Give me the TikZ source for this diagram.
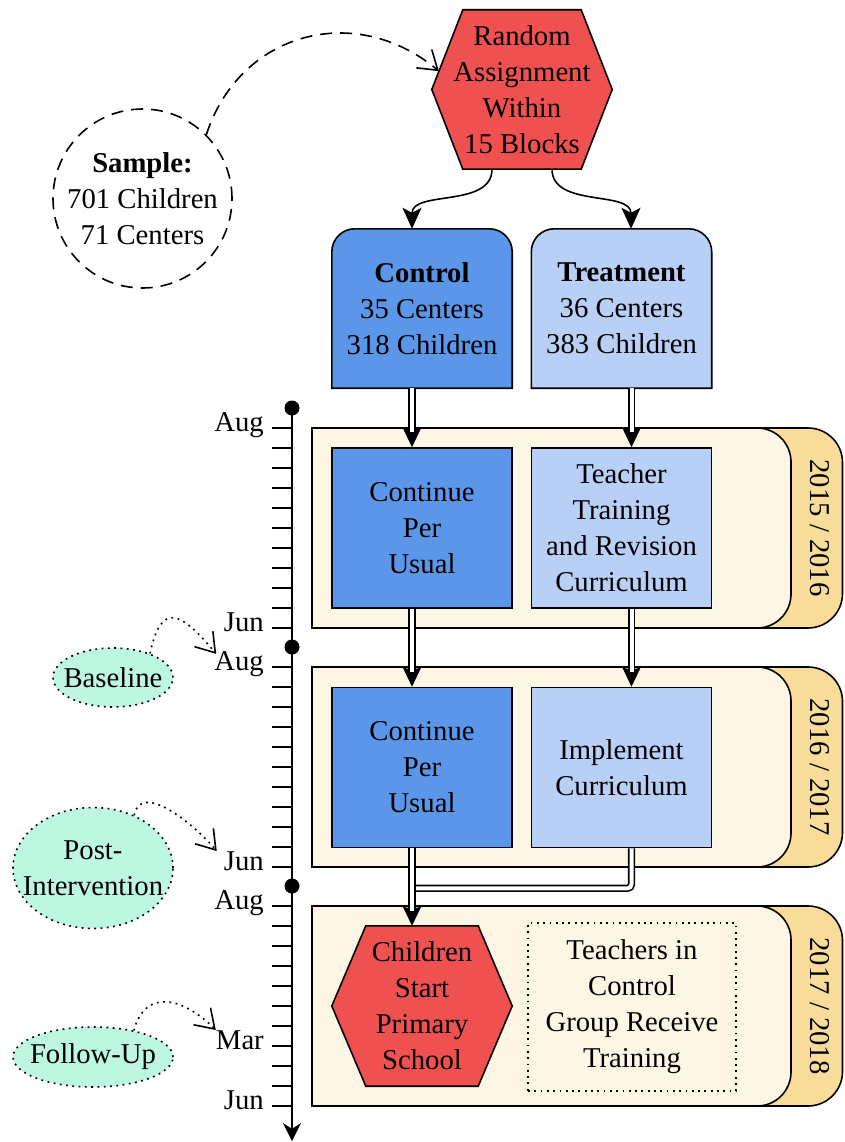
\documentclass[tikz,border=0pt]{standalone}
\usepackage{fontspec}
\setmainfont{Liberation Serif}
\usetikzlibrary{arrows.meta,shapes.geometric,backgrounds,calc}
\definecolor{hexred}{RGB}{239,80,80}
\definecolor{ctrlblue}{RGB}{91,150,233}
\definecolor{trtblue}{RGB}{184,208,245}
\definecolor{cream}{RGB}{254,246,229}
\definecolor{tabor}{RGB}{248,220,154}
\definecolor{mint}{RGB}{189,247,225}
\newcommand\yearpanel[1]{%
 \draw[lw, fill=tabor] (600,-#1) -- (808,-#1) arc[start angle=90,end angle=0,radius=34.5] -- (842.5,{-#1-165.5}) arc[start angle=0,end angle=-90,radius=34.5] -- (600,{-#1-200}) -- cycle;
 \draw[lw, fill=cream] (312,-#1) -- (757,-#1) arc[start angle=90,end angle=0,radius=34] -- (791,{-#1-166}) arc[start angle=0,end angle=-90,radius=34] -- (312,{-#1-200}) -- cycle;}
\begin{document}
\begin{tikzpicture}[x=1pt,y=1pt,
 every node/.style={font=\fontsize{28.7}{36}\selectfont, inner sep=0pt},
 lw/.style={line width=1.6pt},
 box/.style={draw, line width=1.6pt, minimum width=180pt, minimum height=160pt, align=center},
 ctrlbox/.style={box, fill=ctrlblue},
 trtbox/.style={box, fill=trtblue},
 plain/.style={minimum width=180pt, minimum height=160pt, align=center},
 solidarr/.style={line width=1.6pt, -{Stealth[length=21pt,width=19pt,inset=5pt]}},
 dbltip/.style={line width=1.6pt, -{Stealth[length=19pt,width=18pt,inset=2pt]}},
 dblline/.style={line width=1.6pt, double=white, double distance=4pt, shorten >=15pt},
 openarr/.style={-{Straight Barb[length=18pt,width=24pt]}},
 dashedarr/.style={line width=1.6pt, dash pattern=on 12pt off 8pt, openarr},
 dotline/.style={dash pattern=on 1.8pt off 4.5pt},
 dotarr/.style={line width=1.6pt, dotline, openarr},
 ell/.style={ellipse, draw, line width=1.6pt, dotline, fill=mint, inner xsep=-15pt, inner ysep=0pt},
 month/.style={anchor=base east},
 year/.style={rotate=-90},
]
\useasboundingbox (0,0) rectangle (844,-1142);

% main nodes
\node[plain, minimum height=159pt] (rand) at (522,-89.5) {Random\\Assignment\\Within\\15 Blocks};
\node[plain, minimum height=159pt] (ctrl) at (422,-308.5) {\textbf{Control}\\35 Centers\\318 Children};
\node[plain, minimum height=159pt] (trt) at (621.5,-308.5) {\textbf{Treatment}\\36 Centers\\383 Children};
\node[ctrlbox] (cont1) at (422,-528) {Continue\\Per\\Usual};
\node[trtbox] (teach) at (621.5,-528) {Teacher\\Training\\and Revision\\Curriculum};
\node[ctrlbox] (cont2) at (422,-767.5) {Continue\\Per\\Usual};
\node[trtbox] (impl) at (621.5,-767.5) {Implement\\Curriculum};
\node[plain] (school) at (422,-1006) {Children\\Start\\Primary\\School};
\node[draw, lw, dotline, minimum width=208pt, minimum height=168pt, align=center] (tctrl) at (632,-1007) {Teachers in\\Control\\Group Receive\\Training};

\node[year] (yrA) at (820,-528) {2015 / 2016};
\node[year] (yrB) at (820,-767) {2016 / 2017};
\node[year] (yrC) at (820,-1006) {2017 / 2018};

\begin{scope}[on background layer]
 \yearpanel{428}
 \yearpanel{667}
 \yearpanel{906}
 \draw[lw, fill=hexred] (rand.west) -- ([xshift=31pt]rand.north west) -- ([xshift=-31pt]rand.north east) -- (rand.east) -- ([xshift=-31pt]rand.south east) -- ([xshift=31pt]rand.south west) -- cycle;
 \draw[lw, fill=hexred] (school.west) -- ([xshift=34pt]school.north west) -- ([xshift=-34pt]school.north east) -- (school.east) -- ([xshift=-34pt]school.south east) -- ([xshift=34pt]school.south west) -- cycle;
 \draw[lw, fill=ctrlblue] (ctrl.south west) -- ([yshift=-23pt]ctrl.north west) arc[start angle=180,end angle=90,radius=23pt] -- ([xshift=-23pt]ctrl.north east) arc[start angle=90,end angle=0,radius=23pt] -- (ctrl.south east) -- cycle;
 \draw[lw, fill=trtblue] (trt.south west) -- ([yshift=-23pt]trt.north west) arc[start angle=180,end angle=90,radius=23pt] -- ([xshift=-23pt]trt.north east) arc[start angle=90,end angle=0,radius=23pt] -- (trt.south east) -- cycle;
\end{scope}

% connectors
\draw[solidarr] ([xshift=-30pt]rand.south) to[out=-90,in=90] ([xshift=-10pt]ctrl.north);
\draw[solidarr] ([xshift=30pt]rand.south) to[out=-90,in=90] ([xshift=9.5pt]trt.north);

\draw[dbltip] ([xshift=-10pt]ctrl.south) -- ([xshift=-10pt]cont1.north);
\draw[dblline] ([xshift=-10pt]ctrl.south) -- ([xshift=-10pt]cont1.north);
\draw[dbltip] ([xshift=10pt]trt.south) -- ([xshift=10pt]teach.north);
\draw[dblline] ([xshift=10pt]trt.south) -- ([xshift=10pt]teach.north);
\draw[dbltip] ([xshift=-10pt]cont1.south) -- ([xshift=-10pt]cont2.north);
\draw[dblline] ([xshift=-10pt]cont1.south) -- ([xshift=-10pt]cont2.north);
\draw[dbltip] ([xshift=10pt]teach.south) -- ([xshift=10pt]impl.north);
\draw[dblline] ([xshift=10pt]teach.south) -- ([xshift=10pt]impl.north);
\draw[dblline, rounded corners=4pt] ([xshift=10pt]impl.south) -- ++(0,-40) -| ([xshift=-10pt]school.north);
\draw[dbltip] ([xshift=-10pt]cont2.south) -- ([xshift=-10pt]school.north);
\draw[dblline] ([xshift=-10pt]cont2.south) -- ([xshift=-10pt]school.north);

% sample
\node[circle, draw, lw, dash pattern=on 12pt off 8pt, minimum size=179pt, align=center] (sample) at (142.5,-198.5) {\textbf{Sample:}\\701 Children\\71 Centers};
\coordinate (entry) at ($(rand.west)!0.23!([xshift=31pt]rand.north west)$);
\draw[dashedarr] (sample.north east) to[out=72,in=140,looseness=1.15] (entry);

% timeline
\draw[lw, -{Stealth[length=18pt,width=18pt]}] (292,-408) -- (292,-1141);
\foreach \y in {408,647,886} \fill (292,-\y) circle[radius=7.5pt];
\foreach \t in {428,667,906} \foreach \m in {0,...,10} \draw[lw] (272,{-\t-20*\m}) -- (292,{-\t-20*\m});
\node[month] (aug1) at (264,-431) {Aug};
\node[month] (jun1) at (264,-631) {Jun};
\node[month] (aug2) at (264,-670) {Aug};
\node[month] (jun2) at (264,-870) {Jun};
\node[month] (aug3) at (264,-909) {Aug};
\node[month] (mar3) at (264,-1049) {Mar};
\node[month] (jun3) at (264,-1109) {Jun};

% measurement points
\node[ell, minimum width=120pt, minimum height=59pt] (base) at (113,-677.5) {Baseline};
\node[ell, minimum width=160pt, minimum height=121pt, align=center] (post) at (93,-868) {Post-\\Intervention};
\node[ell, minimum width=160pt, minimum height=60pt] (fol) at (93,-1057) {Follow-Up};
\draw[dotarr] (base.33) to[out=78,in=130,looseness=2.1] ([xshift=2pt,yshift=-3pt]aug2.north west);
\draw[dotarr] (post.52) to[out=80,in=130] ([xshift=-7pt]jun2.north west);
\draw[dotarr] (fol.33) to[out=75,in=135,looseness=1.4] (mar3.north west);
\end{tikzpicture}
\end{document}
